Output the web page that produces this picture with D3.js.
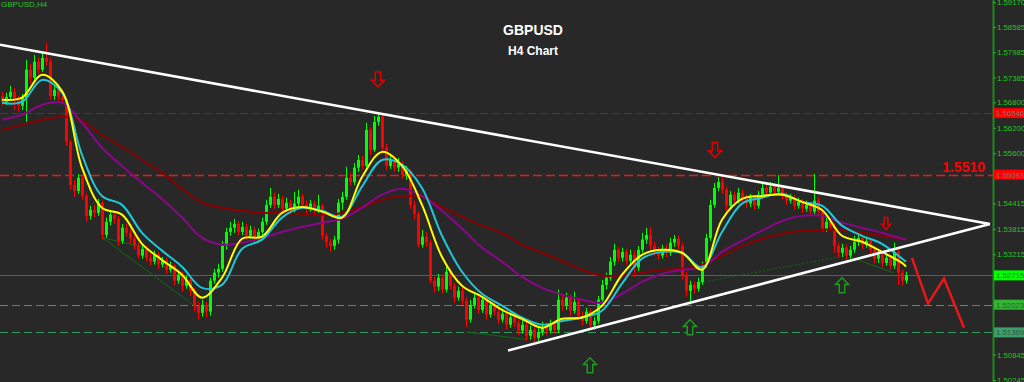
<!DOCTYPE html>
<html><head><meta charset="utf-8">
<script src="https://cdn.jsdelivr.net/npm/d3@7"></script>
<style>html,body{margin:0;padding:0;background:#282828;overflow:hidden}</style>
</head><body><svg id="c" width="1024" height="382"></svg>
<script>
// ---------- DATA ----------
const open=[1.5695,1.5681,1.5693,1.5705,1.5686,1.5672,1.5691,1.5757,1.5738,1.5776,
1.5757,1.5785,1.5776,1.5695,1.5710,1.5693,1.5686,1.5587,1.5485,1.5471,
1.5502,1.5459,1.5412,1.5426,1.5419,1.5443,1.5367,1.5398,1.5415,1.5405,
1.5353,1.5384,1.5372,1.5358,1.5341,1.5318,1.5334,1.5313,1.5304,1.5320,
1.5297,1.5306,1.5285,1.5294,1.5259,1.5273,1.5247,1.5261,1.5235,1.5200,
1.5183,1.5202,1.5186,1.5259,1.5278,1.5287,1.5341,1.5374,1.5384,1.5393,
1.5374,1.5386,1.5365,1.5379,1.5360,1.5374,1.5398,1.5438,1.5457,1.5438,
1.5452,1.5429,1.5443,1.5424,1.5441,1.5457,1.5438,1.5429,1.5441,1.5426,
1.5436,1.5365,1.5349,1.5341,1.5356,1.5443,1.5457,1.5502,1.5492,1.5526,
1.5544,1.5530,1.5615,1.5568,1.5634,1.5646,1.5573,1.5530,1.5544,1.5526,
1.5535,1.5509,1.5518,1.5438,1.5417,1.5344,1.5363,1.5349,1.5259,1.5245,
1.5266,1.5238,1.5280,1.5247,1.5219,1.5235,1.5212,1.5167,1.5202,1.5219,
1.5190,1.5214,1.5179,1.5202,1.5186,1.5167,1.5181,1.5155,1.5172,1.5160,
1.5141,1.5155,1.5129,1.5143,1.5124,1.5138,1.5150,1.5141,1.5155,1.5143,
1.5214,1.5200,1.5219,1.5188,1.5209,1.5176,1.5164,1.5186,1.5153,1.5164,
1.5214,1.5249,1.5266,1.5304,1.5332,1.5313,1.5327,1.5306,1.5320,1.5290,
1.5332,1.5356,1.5367,1.5341,1.5330,1.5318,1.5334,1.5325,1.5349,1.5358,
1.5341,1.5271,1.5235,1.5249,1.5240,1.5256,1.5297,1.5360,1.5438,1.5478,
1.5492,1.5474,1.5436,1.5462,1.5448,1.5467,1.5455,1.5441,1.5455,1.5436,
1.5462,1.5478,1.5467,1.5481,1.5469,1.5478,1.5459,1.5448,1.5455,1.5436,
1.5445,1.5429,1.5438,1.5422,1.5448,1.5422,1.5382,1.5398,1.5386,1.5341,
1.5325,1.5337,1.5318,1.5332,1.5351,1.5360,1.5344,1.5353,1.5332,1.5311,
1.5320,1.5301,1.5313,1.5294,1.5327,1.5278,1.5259];
const high=[1.5705,1.5703,1.5719,1.5714,1.5695,1.5700,1.5780,1.5771,1.5792,1.5785,
1.5799,1.5821,1.5785,1.5721,1.5717,1.5710,1.5691,1.5592,1.5497,1.5511,
1.5507,1.5464,1.5436,1.5438,1.5452,1.5448,1.5408,1.5424,1.5422,1.5412,
1.5393,1.5393,1.5382,1.5365,1.5349,1.5344,1.5341,1.5323,1.5330,1.5327,
1.5315,1.5313,1.5304,1.5299,1.5282,1.5280,1.5271,1.5268,1.5242,1.5209,
1.5214,1.5209,1.5266,1.5287,1.5299,1.5353,1.5384,1.5398,1.5405,1.5400,
1.5398,1.5393,1.5389,1.5386,1.5382,1.5408,1.5450,1.5478,1.5467,1.5464,
1.5459,1.5455,1.5450,1.5469,1.5474,1.5464,1.5448,1.5450,1.5448,1.5462,
1.5441,1.5372,1.5358,1.5365,1.5452,1.5469,1.5528,1.5514,1.5537,1.5556,
1.5554,1.5632,1.5622,1.5648,1.5655,1.5655,1.5582,1.5556,1.5554,1.5549,
1.5542,1.5530,1.5523,1.5448,1.5422,1.5379,1.5374,1.5356,1.5268,1.5275,
1.5273,1.5292,1.5287,1.5254,1.5245,1.5242,1.5219,1.5214,1.5228,1.5226,
1.5221,1.5219,1.5209,1.5209,1.5195,1.5193,1.5188,1.5183,1.5179,1.5167,
1.5167,1.5162,1.5153,1.5150,1.5148,1.5162,1.5160,1.5167,1.5164,1.5238,
1.5223,1.5231,1.5226,1.5233,1.5216,1.5186,1.5195,1.5193,1.5174,1.5223,
1.5261,1.5278,1.5315,1.5346,1.5339,1.5337,1.5334,1.5332,1.5330,1.5341,
1.5372,1.5384,1.5386,1.5351,1.5339,1.5344,1.5344,1.5360,1.5367,1.5365,
1.5349,1.5280,1.5259,1.5256,1.5266,1.5304,1.5370,1.5450,1.5490,1.5504,
1.5502,1.5481,1.5471,1.5469,1.5478,1.5474,1.5462,1.5464,1.5462,1.5471,
1.5490,1.5485,1.5492,1.5488,1.5509,1.5485,1.5467,1.5464,1.5462,1.5455,
1.5452,1.5448,1.5445,1.5511,1.5457,1.5429,1.5408,1.5405,1.5393,1.5349,
1.5346,1.5344,1.5341,1.5365,1.5372,1.5367,1.5363,1.5360,1.5339,1.5330,
1.5327,1.5323,1.5320,1.5349,1.5334,1.5285,1.5280];
const low=[1.5672,1.5674,1.5686,1.5662,1.5658,1.5662,1.5634,1.5724,1.5733,1.5747,
1.5752,1.5766,1.5686,1.5686,1.5684,1.5677,1.5577,1.5474,1.5457,1.5464,
1.5450,1.5398,1.5403,1.5408,1.5412,1.5356,1.5360,1.5389,1.5393,1.5341,
1.5346,1.5363,1.5346,1.5332,1.5311,1.5311,1.5304,1.5294,1.5297,1.5287,
1.5290,1.5275,1.5278,1.5247,1.5252,1.5233,1.5240,1.5223,1.5186,1.5167,
1.5174,1.5172,1.5176,1.5252,1.5266,1.5280,1.5332,1.5365,1.5372,1.5365,
1.5367,1.5356,1.5358,1.5351,1.5353,1.5365,1.5391,1.5431,1.5429,1.5431,
1.5419,1.5422,1.5415,1.5417,1.5433,1.5429,1.5419,1.5422,1.5417,1.5419,
1.5356,1.5337,1.5327,1.5332,1.5346,1.5426,1.5450,1.5483,1.5485,1.5516,
1.5521,1.5526,1.5556,1.5563,1.5625,1.5566,1.5521,1.5523,1.5516,1.5516,
1.5500,1.5497,1.5429,1.5403,1.5337,1.5337,1.5339,1.5252,1.5231,1.5235,
1.5228,1.5231,1.5238,1.5207,1.5212,1.5202,1.5150,1.5160,1.5193,1.5181,
1.5183,1.5167,1.5172,1.5176,1.5157,1.5160,1.5143,1.5148,1.5150,1.5131,
1.5134,1.5117,1.5120,1.5113,1.5117,1.5129,1.5131,1.5134,1.5134,1.5136,
1.5188,1.5190,1.5176,1.5181,1.5167,1.5153,1.5157,1.5143,1.5143,1.5157,
1.5207,1.5238,1.5259,1.5294,1.5304,1.5304,1.5297,1.5299,1.5268,1.5282,
1.5325,1.5346,1.5332,1.5318,1.5308,1.5311,1.5315,1.5318,1.5339,1.5332,
1.5261,1.5221,1.5207,1.5228,1.5233,1.5249,1.5290,1.5353,1.5431,1.5471,
1.5464,1.5424,1.5429,1.5438,1.5441,1.5445,1.5431,1.5433,1.5426,1.5429,
1.5455,1.5457,1.5459,1.5459,1.5462,1.5450,1.5438,1.5441,1.5426,1.5429,
1.5419,1.5422,1.5415,1.5415,1.5415,1.5374,1.5374,1.5377,1.5325,1.5313,
1.5315,1.5308,1.5311,1.5325,1.5341,1.5334,1.5337,1.5323,1.5299,1.5301,
1.5292,1.5294,1.5285,1.5287,1.5249,1.5247,1.5252];
const close=[1.5681,1.5693,1.5705,1.5686,1.5672,1.5691,1.5757,1.5738,1.5776,1.5757,
1.5785,1.5776,1.5695,1.5710,1.5693,1.5686,1.5587,1.5485,1.5471,1.5502,
1.5459,1.5412,1.5426,1.5419,1.5443,1.5367,1.5398,1.5415,1.5405,1.5353,
1.5384,1.5372,1.5358,1.5341,1.5318,1.5334,1.5313,1.5304,1.5320,1.5297,
1.5306,1.5285,1.5294,1.5259,1.5273,1.5247,1.5261,1.5235,1.5200,1.5183,
1.5202,1.5186,1.5259,1.5278,1.5287,1.5341,1.5374,1.5384,1.5393,1.5374,
1.5386,1.5365,1.5379,1.5360,1.5374,1.5398,1.5438,1.5457,1.5438,1.5452,
1.5429,1.5443,1.5424,1.5441,1.5457,1.5438,1.5429,1.5441,1.5426,1.5436,
1.5365,1.5349,1.5341,1.5356,1.5443,1.5457,1.5502,1.5492,1.5526,1.5544,
1.5530,1.5615,1.5568,1.5634,1.5646,1.5573,1.5530,1.5544,1.5526,1.5535,
1.5509,1.5518,1.5438,1.5417,1.5344,1.5363,1.5349,1.5259,1.5245,1.5266,
1.5238,1.5280,1.5247,1.5219,1.5235,1.5212,1.5167,1.5202,1.5219,1.5190,
1.5214,1.5179,1.5202,1.5186,1.5167,1.5181,1.5155,1.5172,1.5160,1.5141,
1.5155,1.5129,1.5143,1.5124,1.5138,1.5150,1.5141,1.5155,1.5143,1.5214,
1.5200,1.5219,1.5188,1.5209,1.5176,1.5164,1.5186,1.5153,1.5164,1.5214,
1.5249,1.5266,1.5304,1.5332,1.5313,1.5327,1.5306,1.5320,1.5290,1.5332,
1.5356,1.5367,1.5341,1.5330,1.5318,1.5334,1.5325,1.5349,1.5358,1.5341,
1.5271,1.5235,1.5249,1.5240,1.5256,1.5297,1.5360,1.5438,1.5478,1.5492,
1.5474,1.5436,1.5462,1.5448,1.5467,1.5455,1.5441,1.5455,1.5436,1.5462,
1.5478,1.5467,1.5481,1.5469,1.5478,1.5459,1.5448,1.5455,1.5436,1.5445,
1.5429,1.5438,1.5422,1.5448,1.5422,1.5382,1.5398,1.5386,1.5341,1.5325,
1.5337,1.5318,1.5332,1.5351,1.5360,1.5344,1.5353,1.5332,1.5311,1.5320,
1.5301,1.5313,1.5294,1.5327,1.5278,1.5259,1.5272];

const maIndex=[0,5,10,15,20,25,30,35,40,45,50,55,60,65,70,75,80,85,90,95,100,105,110,115,120,125,130,135,140,145,150,155,160,165,170,175,180,185,190,195,200,205,210,215,220,225,226];
const maYellow=[1.5686,1.5691,1.5745,1.5707,1.5526,1.5431,1.5415,1.5346,1.5308,1.5273,1.5219,1.5266,1.5358,1.5363,1.5419,1.5433,1.5422,1.5408,1.5504,1.5563,1.5530,1.5438,1.5315,1.5247,1.5221,1.5190,1.5169,1.5148,1.5169,1.5172,1.5200,1.5273,1.5320,1.5332,1.5325,1.5285,1.5403,1.5452,1.5459,1.5462,1.5445,1.5426,1.5365,1.5351,1.5327,1.5301,1.5292];
const maCyan=[1.5679,1.5681,1.5733,1.5703,1.5556,1.5459,1.5438,1.5372,1.5330,1.5292,1.5242,1.5249,1.5334,1.5356,1.5408,1.5431,1.5424,1.5410,1.5481,1.5544,1.5533,1.5478,1.5365,1.5280,1.5228,1.5200,1.5172,1.5155,1.5164,1.5172,1.5188,1.5252,1.5311,1.5327,1.5325,1.5290,1.5374,1.5441,1.5455,1.5464,1.5445,1.5436,1.5389,1.5365,1.5346,1.5311,1.5304];
const maPurple=[1.5639,1.5651,1.5674,1.5679,1.5632,1.5573,1.5530,1.5490,1.5452,1.5408,1.5360,1.5344,1.5349,1.5360,1.5374,1.5386,1.5396,1.5405,1.5431,1.5462,1.5476,1.5459,1.5424,1.5382,1.5337,1.5304,1.5268,1.5242,1.5226,1.5214,1.5207,1.5228,1.5256,1.5275,1.5285,1.5290,1.5327,1.5353,1.5377,1.5400,1.5412,1.5412,1.5396,1.5384,1.5372,1.5358,1.5356];
const maDarkRed=[1.5615,1.5627,1.5639,1.5646,1.5636,1.5603,1.5575,1.5544,1.5514,1.5476,1.5443,1.5431,1.5424,1.5419,1.5419,1.5417,1.5415,1.5419,1.5433,1.5450,1.5459,1.5457,1.5433,1.5410,1.5389,1.5372,1.5344,1.5325,1.5306,1.5285,1.5271,1.5271,1.5278,1.5285,1.5287,1.5297,1.5318,1.5341,1.5358,1.5370,1.5377,1.5379,1.5379,1.5372,1.5365,1.5358,1.5356];

// axis tick labels (those hidden under the price boxes are left out)
const tickValues=[1.59170,1.58585,1.57985,1.57385,1.56800,1.56200,1.55600,1.54415,1.53815,1.53215,1.50845,1.50245];
const levelPrices=[1.56546,1.55093,1.52715,1.52023,1.51369];
const levelLabels=["1.56546","1.55093","1.52715","1.52023","1.51369"];

const trendTopIdx=[-0.5,247], trendTopPrice=[1.5816,1.5393];
const trendBotIdx=[126.5,247], trendBotPrice=[1.5094,1.5393];
const forecastIdx=[227.5,231.5,235.5,240.5], forecastPrice=[1.5313,1.5205,1.5264,1.5148];
const thinIdx=[[25.25,48.75],[25.25,36.25],[116.25,131.25],[174.5,209],[212,222.75]];
const thinPrice=[[1.5360,1.5195],[1.5360,1.5337],[1.5138,1.5120],[1.5254,1.5315],[1.5315,1.5278]];
const downArrowIdx=[94,178.25,221], downArrowPrice=[1.5752,1.5585,1.5408];
const upArrowIdx=[210,172,147], upArrowPrice=[1.5266,1.5167,1.5077];

// ---------- STYLES ----------
const BG="#282828";
const FONT="Liberation Sans, Arial, sans-serif";
const levelStyle=[
 {c:"#d40000",w:1,dash:"8,4",box:"#ff0000",tc:"#7a7a7a"},
 {c:"#ff1010",w:1.5,dash:"9,4",box:"#ff0000",tc:"#7a7a7a"},
 {c:"#5c5c5c",w:1,dash:null,box:"#00ff00",tc:"#1f7a1f"},
 {c:"#28b428",w:1,dash:"8,4",box:"#34b334",tc:"#1d6b1d"},
 {c:"#2e9a5c",w:1,dash:"8,4",box:"#3f9d6b",tc:"#1f5e3f"}
];

const svg=d3.select("#c");
svg.append("rect").attr("width",1024).attr("height",382).attr("fill",BG);
const x=d3.scaleLinear().domain([0,226]).range([2,906]);
const y=d3.scaleLinear().domain([1.50245,1.59170]).range([380,2]);
const AX=993;

svg.append("defs").append("clipPath").attr("id","plot").append("rect").attr("x",0).attr("y",0).attr("width",AX).attr("height",382);
const g=svg.append("g").attr("clip-path","url(#plot)");

// level lines
levelPrices.forEach((p,k)=>{
  const s=levelStyle[k];
  g.append("line").attr("x1",0).attr("x2",AX).attr("y1",Math.round(y(p))+0.5).attr("y2",Math.round(y(p))+0.5)
   .attr("stroke",s.c).attr("stroke-width",s.w).attr("stroke-dasharray",s.dash);
});

// thin green trendlines
thinIdx.forEach((ix,k)=>{
  g.append("line").attr("x1",x(ix[0])).attr("x2",x(ix[1])).attr("y1",y(thinPrice[k][0])).attr("y2",y(thinPrice[k][1]))
   .attr("stroke","#0f6a12").attr("stroke-width",1).attr("stroke-dasharray",k===3?"2,2":null);
});

// candles
const idx=d3.range(close.length);
const cg=g.append("g");
idx.forEach(i=>{
  const up=close[i]>=open[i];
  const col=up?"#00ff00":"#ff0000";
  const cx=Math.round(x(i));
  cg.append("line").attr("x1",cx+0.5).attr("x2",cx+0.5).attr("y1",y(high[i])).attr("y2",y(low[i]))
    .attr("stroke",col).attr("stroke-width",1);
  const yt=y(Math.max(open[i],close[i])), yb=y(Math.min(open[i],close[i]));
  cg.append("rect").attr("x",cx-1).attr("width",3).attr("y",yt).attr("height",Math.max(1,yb-yt)).attr("fill",col);
});

// moving averages
const line=d3.line().x(d=>x(d[0])).y(d=>y(d[1])).curve(d3.curveCatmullRom.alpha(0.5));
[[maDarkRed,"#8b0000"],[maPurple,"#8b068b"],[maCyan,"#1ec8d8"],[maYellow,"#ffff00"]].forEach(([arr,c])=>{
  g.append("path").datum(maIndex.map((ix,k)=>[ix,arr[k]])).attr("d",line)
   .attr("fill","none").attr("stroke",c).attr("stroke-width",2);
});

// white trendlines
const lin=d3.line().x(d=>x(d[0])).y(d=>y(d[1]));
g.append("path").datum(trendTopIdx.map((ix,k)=>[ix,trendTopPrice[k]])).attr("d",lin).attr("stroke","#ffffff").attr("stroke-width",2.6).attr("fill","none");
g.append("path").datum(trendBotIdx.map((ix,k)=>[ix,trendBotPrice[k]])).attr("d",lin).attr("stroke","#ffffff").attr("stroke-width",2.6).attr("fill","none");

// forecast zigzag
g.append("path").datum(forecastIdx.map((ix,k)=>[ix,forecastPrice[k]])).attr("d",lin)
 .attr("stroke","#e81818").attr("stroke-width",2.5).attr("fill","none").attr("stroke-linejoin","miter");

// arrows
function arrowPath(cx,top,w,h,down){
  const sw=w*0.42, hh=h*0.45;
  let pts;
  if(down){
    pts=[[cx-sw/2,top],[cx+sw/2,top],[cx+sw/2,top+h-hh],[cx+w/2,top+h-hh],[cx,top+h],[cx-w/2,top+h-hh],[cx-sw/2,top+h-hh]];
  } else {
    pts=[[cx,top],[cx+w/2,top+hh],[cx+sw/2,top+hh],[cx+sw/2,top+h],[cx-sw/2,top+h],[cx-sw/2,top+hh],[cx-w/2,top+hh]];
  }
  return "M"+pts.map(p=>p.join(",")).join("L")+"Z";
}
downArrowIdx.forEach((ix,k)=>{
  const small=k===2;
  g.append("path").attr("d",arrowPath(x(ix),y(downArrowPrice[k]),small?9:13,small?12:15,true))
   .attr("fill",BG).attr("stroke","#e00000").attr("stroke-width",1.5);
});
upArrowIdx.forEach((ix,k)=>{
  g.append("path").attr("d",arrowPath(x(ix),y(upArrowPrice[k]),13,15,false))
   .attr("fill",BG).attr("stroke","#1f9a1f").attr("stroke-width",1.5);
});

// right axis
svg.append("line").attr("x1",AX+0.5).attr("x2",AX+0.5).attr("y1",0).attr("y2",382).attr("stroke","#1d8a1d").attr("stroke-width",2);
const ax=svg.append("g").attr("transform",`translate(${AX},0)`)
  .call(d3.axisRight(y).tickValues(tickValues).tickFormat(d3.format(".5f")).tickSize(3).tickPadding(1));
ax.select(".domain").remove();
ax.selectAll(".tick line").attr("stroke","#22b822");
ax.selectAll(".tick text").attr("fill","#22c422").style("font-family",FONT).style("font-size","7.8px");

// level labels on axis
levelPrices.forEach((p,k)=>{
  const s=levelStyle[k], yy=y(p);
  svg.append("rect").attr("x",AX+1).attr("y",yy-5).attr("width",1024-AX-1).attr("height",10).attr("fill",s.box);
  svg.append("text").attr("x",AX+3).attr("y",yy+3).text(levelLabels[k]).attr("fill",s.tc)
   .style("font-family",FONT).style("font-size","7.8px");
});

// texts
svg.append("text").attr("x",1).attr("y",7).text("GBPUSD,H4").attr("fill","#2ec02e")
 .style("font-family",FONT).style("font-size","8px");
svg.append("text").attr("x",533).attr("y",35).attr("text-anchor","middle").text("GBPUSD").attr("fill","#ffffff")
 .style("font-family",FONT).style("font-size","14px").style("font-weight","bold");
svg.append("text").attr("x",533).attr("y",55).attr("text-anchor","middle").text("H4 Chart").attr("fill","#ffffff")
 .style("font-family",FONT).style("font-size","12px").style("font-weight","bold");
svg.append("text").attr("x",985).attr("y",172).attr("text-anchor","end").text("1.5510").attr("fill","#ff0000")
 .style("font-family",FONT).style("font-size","14px").style("font-weight","bold");
</script></body></html>
